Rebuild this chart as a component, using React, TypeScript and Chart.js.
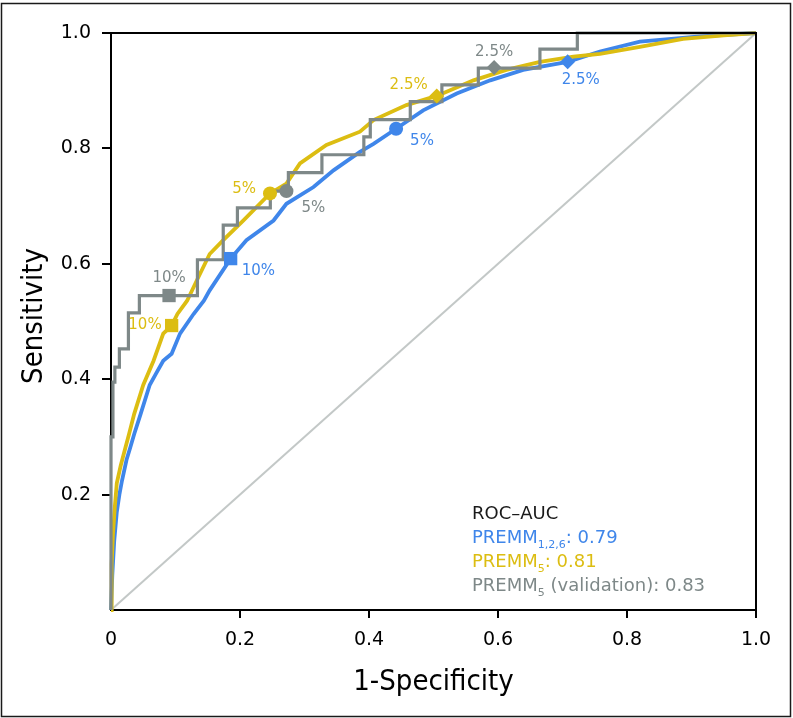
import React, { useEffect, useRef } from 'react';
import { Chart, registerables } from 'chart.js';
Chart.register(...registerables);

// ---------- data ----------
const xTickValues = [0, 0.2, 0.4, 0.6, 0.8, 1.0];
const yTickValues = [0.2, 0.4, 0.6, 0.8, 1.0];

// PREMM1,2,6 (blue)
const premm126X = [0, 0.002, 0.005, 0.009, 0.013, 0.017, 0.024, 0.03, 0.036, 0.046, 0.06, 0.07, 0.081, 0.094, 0.107, 0.128, 0.144, 0.153, 0.1855, 0.21, 0.252, 0.272, 0.314, 0.345, 0.386, 0.407, 0.442, 0.484, 0.536, 0.588, 0.639, 0.708, 0.758, 0.82, 0.913, 1];
const premm126Y = [0, 0.06, 0.12, 0.17, 0.2, 0.224, 0.26, 0.282, 0.305, 0.34, 0.39, 0.41, 0.432, 0.444, 0.479, 0.513, 0.536, 0.554, 0.609, 0.641, 0.675, 0.704, 0.733, 0.762, 0.794, 0.808, 0.834, 0.866, 0.895, 0.918, 0.936, 0.95, 0.968, 0.985, 0.994, 1];

// PREMM5 (yellow)
const premm5X = [0, 0.001, 0.003, 0.006, 0.009, 0.015, 0.022, 0.028, 0.036, 0.05, 0.066, 0.081, 0.094, 0.103, 0.118, 0.133, 0.153, 0.174, 0.205, 0.2465, 0.272, 0.293, 0.334, 0.386, 0.407, 0.458, 0.505, 0.562, 0.613, 0.665, 0.717, 0.758, 0.82, 0.887, 0.95, 1];
const premm5Y = [0, 0.08, 0.13, 0.18, 0.22, 0.25, 0.28, 0.305, 0.34, 0.39, 0.432, 0.479, 0.493, 0.513, 0.536, 0.571, 0.617, 0.641, 0.675, 0.722, 0.739, 0.774, 0.806, 0.829, 0.849, 0.875, 0.891, 0.918, 0.936, 0.95, 0.959, 0.964, 0.976, 0.99, 0.996, 1];

// PREMM5 validation (grey, stepped)
const validX = [0, 0, 0.003, 0.003, 0.006, 0.006, 0.013, 0.013, 0.027, 0.027, 0.044, 0.044, 0.134, 0.134, 0.174, 0.174, 0.196, 0.196, 0.247, 0.247, 0.275, 0.275, 0.327, 0.327, 0.392, 0.392, 0.402, 0.402, 0.464, 0.464, 0.513, 0.513, 0.5695, 0.5695, 0.665, 0.665, 0.723, 0.723, 1];
const validY = [0, 0.3, 0.3, 0.395, 0.395, 0.421, 0.421, 0.4525, 0.4525, 0.515, 0.515, 0.545, 0.545, 0.607, 0.607, 0.667, 0.667, 0.697, 0.697, 0.726, 0.726, 0.758, 0.758, 0.789, 0.789, 0.82, 0.82, 0.85, 0.85, 0.881, 0.881, 0.91, 0.91, 0.939, 0.939, 0.972, 0.972, 1, 1];

// reference diagonal
const diagX = [0, 1];
const diagY = [0, 1];

// threshold markers
const thresholdLabels = ['10%', '5%', '2.5%'];
const premm126MarkX = [0.1855, 0.442, 0.708];
const premm126MarkY = [0.609, 0.834, 0.95];
const premm5MarkX = [0.094, 0.2465, 0.505];
const premm5MarkY = [0.493, 0.722, 0.891];
const validMarkX = [0.09, 0.272, 0.594];
const validMarkY = [0.545, 0.726, 0.94];

// AUC values
const aucPremm126 = '0.79';
const aucPremm5 = '0.81';
const aucValid = '0.83';

// ---------- styles ----------
const BLUE = '#3f86ea';
const YELLOW = '#dcbd12';
const GREY = '#7e8888';
const DIAG = '#c3c8c7';
const markerStyles = ['rect', 'circle', 'rectRot'];
const markerRadii = [9.4, 7, 7.5];

type Lay = [number, number, CanvasTextAlign];
// label offsets [dx, dy, align] for each marker
const blueLabelLayout: Lay[] = [[11, 13, 'left'], [14, 12, 'left'], [-6, 18, 'left']];
const yellowLabelLayout: Lay[] = [[-10, 0, 'right'], [-14, -4, 'right'], [-9, -11, 'right']];
const greyLabelLayout: Lay[] = [[0, -17, 'center'], [15, 17, 'left'], [0, -16, 'center']];

const pts = (xs: number[], ys: number[]) => xs.map((x, i) => ({ x, y: ys[i] }));

const TICK_FONT = '"DejaVu Sans", sans-serif';
const TITLE_FONT = '"DejaVu Sans Condensed", "Liberation Sans Narrow", sans-serif';

const framePlugin = {
  id: 'frame',
  beforeDraw(chart: any) {
    const ctx = chart.ctx;
    ctx.save();
    ctx.fillStyle = '#fff';
    ctx.fillRect(0, 0, chart.width, chart.height);
    ctx.restore();
  },
  afterDraw(chart: any) {
    const ctx = chart.ctx;
    const a = chart.chartArea;
    ctx.save();
    // outer frame
    ctx.strokeStyle = '#1a1a1a';
    ctx.lineWidth = 1.5;
    ctx.strokeRect(1.5, 3.5, chart.width - 4, chart.height - 5);
    // top/right plot box
    ctx.strokeStyle = '#000';
    ctx.lineWidth = 2;
    ctx.beginPath();
    ctx.moveTo(a.left, a.top);
    ctx.lineTo(a.right, a.top);
    ctx.lineTo(a.right, a.bottom);
    ctx.stroke();

    // axis titles
    ctx.fillStyle = '#000';
    ctx.font = '29px ' + TITLE_FONT;
    ctx.textAlign = 'center';
    ctx.textBaseline = 'alphabetic';
    ctx.fillText('1-Specificity', (a.left + a.right) / 2, 690);
    ctx.save();
    ctx.translate(42, 316);
    ctx.rotate(-Math.PI / 2);
    ctx.fillText('Sensitivity', 0, 0);
    ctx.restore();

    // threshold labels
    ctx.font = '15px ' + TICK_FONT;
    ctx.textBaseline = 'middle';
    const groups: [number, string, Lay[]][] = [
      [5, BLUE, blueLabelLayout],
      [4, YELLOW, yellowLabelLayout],
      [6, GREY, greyLabelLayout],
    ];
    groups.forEach(([di, color, layout]) => {
      const meta = chart.getDatasetMeta(di);
      meta.data.forEach((el: any, i: number) => {
        const lay = layout[i];
        if (!lay) return;
        ctx.fillStyle = color;
        ctx.textAlign = lay[2];
        ctx.fillText(thresholdLabels[i], el.x + lay[0], el.y + lay[1]);
      });
    });

    // AUC legend
    const lx = 472;
    const lines: [string, { t: string; sub?: boolean }[]][] = [
      ['#1a1a1a', [{ t: 'ROC\u2013AUC' }]],
      [BLUE, [{ t: 'PREMM' }, { t: '1,2,6', sub: true }, { t: ': ' + aucPremm126 }]],
      [YELLOW, [{ t: 'PREMM' }, { t: '5', sub: true }, { t: ': ' + aucPremm5 }]],
      [GREY, [{ t: 'PREMM' }, { t: '5', sub: true }, { t: ' (validation): ' + aucValid }]],
    ];
    ctx.textAlign = 'left';
    ctx.textBaseline = 'alphabetic';
    lines.forEach(([color, runs], li) => {
      let x = lx;
      const y = 519 + li * 24;
      ctx.fillStyle = color;
      runs.forEach((r) => {
        ctx.font = (r.sub ? '11px ' : '18px ') + TICK_FONT;
        ctx.fillText(r.t, x, r.sub ? y + 5 : y);
        x += ctx.measureText(r.t).width;
      });
    });
    ctx.restore();
  },
};

export default function App() {
  const ref = useRef<HTMLCanvasElement>(null);
  useEffect(() => {
    if (!ref.current) return;
    const lineDs = (label: string, xs: number[], ys: number[], color: string, width: number, order: number) => ({
      label,
      data: pts(xs, ys),
      showLine: true,
      borderColor: color,
      backgroundColor: color,
      borderWidth: width,
      pointRadius: 0,
      tension: 0,
      order,
      clip: false as any,
    });
    const markDs = (label: string, xs: number[], ys: number[], color: string) => ({
      label,
      data: pts(xs, ys),
      showLine: false,
      backgroundColor: color,
      borderColor: color,
      borderWidth: 0,
      pointStyle: markerStyles,
      pointRadius: markerRadii,
      order: 0,
      clip: false as any,
    });
    const chart = new Chart(ref.current, {
      type: 'scatter',
      data: {
        datasets: [
          lineDs('diag', diagX, diagY, DIAG, 2, 5) as any,
          lineDs('PREMM1,2,6', premm126X, premm126Y, BLUE, 3.8, 4),
          lineDs('PREMM5', premm5X, premm5Y, YELLOW, 3.8, 3),
          lineDs('PREMM5 validation', validX, validY, GREY, 3.2, 2),
          markDs('PREMM5 marks', premm5MarkX, premm5MarkY, YELLOW),
          markDs('PREMM1,2,6 marks', premm126MarkX, premm126MarkY, BLUE),
          markDs('validation marks', validMarkX, validMarkY, GREY),
        ],
      },
      options: {
        responsive: false,
        animation: false,
        layout: { padding: { left: 0, top: 33, right: 37, bottom: 0 } },
        plugins: { legend: { display: false }, tooltip: { enabled: false } },
        scales: {
          x: {
            type: 'linear',
            min: 0,
            max: 1,
            afterFit: (s: any) => { s.height = 108; },
            afterBuildTicks: (s: any) => { s.ticks = xTickValues.map((v) => ({ value: v })); },
            border: { display: true, color: '#000', width: 2 },
            grid: {
              drawOnChartArea: false,
              drawTicks: true,
              tickLength: 8,
              lineWidth: 2,
              color: (c: any) => (c.tick && c.tick.value === 0 ? 'rgba(0,0,0,0)' : '#000'),
            },
            ticks: {
              color: '#000',
              padding: 11,
              maxRotation: 0,
              font: { family: TICK_FONT, size: 19 },
              callback: (v: any) => (v === 0 ? '0' : Number(v).toFixed(1)),
            },
          },
          y: {
            type: 'linear',
            min: 0,
            max: 1,
            afterFit: (s: any) => { s.width = 111; },
            afterBuildTicks: (s: any) => { s.ticks = yTickValues.map((v) => ({ value: v })); },
            border: { display: true, color: '#000', width: 2 },
            grid: { drawOnChartArea: false, drawTicks: true, tickLength: 9, lineWidth: 2, color: '#000' },
            ticks: {
              color: '#000',
              padding: 11,
              font: { family: TICK_FONT, size: 19 },
              callback: (v: any) => Number(v).toFixed(1),
            },
          },
        },
      },
      plugins: [framePlugin],
    });
    return () => chart.destroy();
  }, []);
  return (
    <div style={{ position: 'absolute', left: 0, top: 0, width: 793, height: 718, background: '#fff' }}>
      <canvas ref={ref} width={793} height={718} style={{ width: 793, height: 718, display: 'block' }} />
    </div>
  );
}
